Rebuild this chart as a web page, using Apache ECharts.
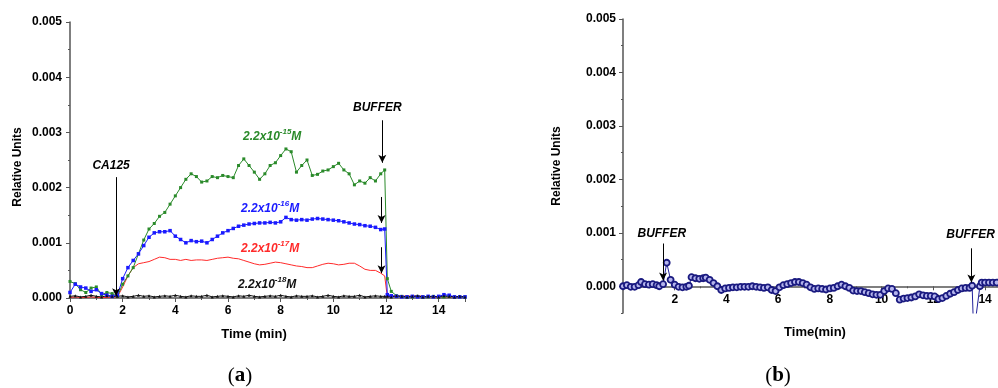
<!DOCTYPE html>
<html><head><meta charset="utf-8">
<script src="https://cdn.jsdelivr.net/npm/echarts@6/dist/echarts.min.js"></script>
<style>html,body{margin:0;padding:0;background:#fff}#c{width:998px;height:388px}</style>
</head><body><div id="c"></div>
<script>
// ---- Panel (a) data ----
const timeA = [0,0.2,0.4,0.6,0.8,1,1.2,1.4,1.6,1.8,2,2.2,2.4,2.6,2.8,3,3.2,3.4,3.6,3.8,4,4.2,4.4,4.6,4.8,5,5.2,5.4,5.6,5.8,6,6.2,6.4,6.6,6.8,7,7.2,7.4,7.6,7.8,8,8.2,8.4,8.6,8.8,9,9.2,9.4,9.6,9.8,10,10.2,10.4,10.6,10.8,11,11.2,11.4,11.6,11.8,11.95,12.05,12.2,12.4,12.6,12.8,13,13.2,13.4,13.6,13.8,14,14.2,14.4,14.6,14.8,15];
const green15 = [0.00030,0.00026,0.00015,0.00010,0.00018,0.00020,0.00006,0.00010,0.00008,0.00003,
 0.00025,0.00040,0.00055,0.00080,0.00105,0.00125,0.00135,0.00148,0.00155,0.00170,
 0.00185,0.00200,0.00215,0.00225,0.00220,0.00210,0.00212,0.00220,0.00218,0.00222,
 0.00220,0.00218,0.00240,0.00252,0.00240,0.00228,0.00215,0.00225,0.00240,0.00245,
 0.00258,0.00270,0.00265,0.00228,0.00240,0.00250,0.00222,0.00224,0.00230,0.00232,
 0.00238,0.00244,0.00232,0.00225,0.00205,0.00212,0.00208,0.00218,0.00212,0.00225,
 0.00232,0.00035,
 0.00012,0.00004,0.00003,0.00002,0.00002,0.00003,0.00002,0.00002,0.00003,0.00002,0.00002,0.00003,0.00002,0.00002,0.00002];
const blue16 = [0.00010,0.00025,0.00020,0.00018,0.00012,0.00015,0.00008,0.00005,0.00003,0.00005,
 0.00035,0.00055,0.00068,0.00080,0.00095,0.00110,0.00118,0.00120,0.00120,0.00122,
 0.00112,0.00106,0.00100,0.00104,0.00102,0.00103,0.00100,0.00106,0.00112,0.00118,
 0.00122,0.00126,0.00130,0.00132,0.00134,0.00135,0.00136,0.00136,0.00137,0.00136,
 0.00138,0.00146,0.00142,0.00141,0.00142,0.00141,0.00143,0.00144,0.00143,0.00142,
 0.00141,0.00140,0.00138,0.00136,0.00134,0.00133,0.00131,0.00130,0.00128,0.00124,
 0.00125,0.00006,
 0.00004,0.00003,0.00002,0.00002,0.00003,0.00002,0.00002,0.00003,0.00002,0.00003,0.00006,0.00005,0.00002,0.00002,0.00002];
const red17 = [0.00001,0.00002,0.00001,0.00001,0.00002,0.00001,0.00001,0.00001,0.00002,0.00002,
 0.00020,0.00040,0.00055,0.00062,0.00064,0.00066,0.00070,0.00074,0.00073,0.00070,
 0.00070,0.00068,0.00070,0.00068,0.00069,0.00069,0.00068,0.00070,0.00072,0.00073,
 0.00074,0.00072,0.00071,0.00068,0.00065,0.00062,0.00060,0.00061,0.00063,0.00065,
 0.00064,0.00062,0.00060,0.00058,0.00057,0.00055,0.00055,0.00058,0.00061,0.00063,
 0.00062,0.00060,0.00061,0.00063,0.00063,0.00058,0.00052,0.00050,0.00050,0.00045,
 0.00040,0.00002,
 0.00003,0.00004,0.00003,0.00004,0.00003,0.00004,0.00003,0.00002,0.00002,0.00002,0.00002,0.00002,0.00002,0.00002,0.00002];
const black18 = [0.00003,0.00004,0.00002,0.00003,0.00005,0.00003,0.00002,0.00004,0.00003,0.00003,
 0.00004,0.00002,0.00003,0.00005,0.00003,0.00004,0.00002,0.00003,0.00004,0.00003,
 0.00005,0.00003,0.00002,0.00004,0.00003,0.00003,0.00005,0.00002,0.00003,0.00004,
 0.00003,0.00002,0.00004,0.00003,0.00005,0.00003,0.00002,0.00003,0.00004,0.00003,
 0.00005,0.00003,0.00002,0.00004,0.00003,0.00003,0.00004,0.00002,0.00003,0.00005,
 0.00003,0.00002,0.00004,0.00003,0.00003,0.00005,0.00002,0.00003,0.00004,0.00003,
 0.00003,0.00003,
 0.00002,0.00004,0.00003,0.00002,0.00003,0.00004,0.00002,0.00003,0.00003,0.00002,0.00004,0.00003,0.00002,0.00003,0.00002];

// ---- Panel (b) data ----
const timeB = [0,0.15,0.3,0.45,0.6,0.7,0.85,1,1.15,1.3,1.4,1.55,1.69,1.84,2,2.15,2.3,2.45,2.55,2.65,2.8,2.95,3.1,3.2,3.35,3.5,3.65,3.8,3.95,4.1,4.25,4.4,4.55,4.7,4.85,5,5.15,5.3,5.45,5.6,5.75,5.9,6.05,6.2,6.35,6.5,6.65,6.8,6.95,7.1,7.25,7.4,7.55,7.7,7.85,8,8.15,8.3,8.45,8.6,8.75,8.9,9.05,9.2,9.35,9.5,9.65,9.8,9.95,10.1,10.25,10.4,10.55,10.7,10.85,11,11.15,11.3,11.45,11.6,11.75,11.9,12.05,12.2,12.35,12.5,12.65,12.8,12.95,13.1,13.25,13.4,13.5,13.56,13.62,13.8,13.87,14,14.15,14.3,14.45];
const bufferB = [0.00000,0.00002,-0.00001,-0.00001,0.00002,0.00008,0.00004,0.00003,0.00004,0.00002,0.00000,0.00004,0.00044,0.00012,0.00003,-0.00001,-0.00002,-0.00001,0.00001,0.00017,0.00015,0.00014,0.00015,0.00016,0.00012,0.00006,0.00000,-0.00007,-0.00004,-0.00003,-0.00002,-0.00002,-0.00001,-0.00001,-0.00001,0.00000,-0.00001,-0.00002,-0.00003,-0.00002,-0.00007,-0.00009,-0.00002,0.00002,0.00004,0.00006,0.00008,0.00008,0.00006,0.00003,-0.00002,-0.00005,-0.00004,-0.00005,-0.00006,-0.00004,-0.00003,0.00000,0.00003,0.00000,-0.00003,-0.00008,-0.00009,-0.00009,-0.00011,-0.00013,-0.00015,-0.00016,-0.00016,-0.00009,-0.00004,-0.00005,-0.00013,-0.00025,-0.00023,-0.00022,-0.00021,-0.00019,-0.00015,-0.00017,-0.00018,-0.00018,-0.00019,-0.00024,-0.00022,-0.00018,-0.00014,-0.00011,-0.00007,-0.00004,-0.00003,-0.00003,0.00001,-0.00090,-0.00090,0.00000,0.00007,0.00007,0.00007,0.00007,0.00007];

const yTicksB = [0,0.001,0.002,0.003,0.004,0.005];

const FONT = 'Liberation Sans, Arial, sans-serif';
const AX = '#555';
const lblStyle = {fontFamily: FONT, fontWeight: 'bold', fontSize: 12, color: '#000'};

function pair(t, v) { return t.map((x, i) => [x, v[i]]); }

function concLabel(exp, color) {
  return {
    show: true, position: 'inside',
    formatter: '{a|2.2x10}{s|' + exp + '}{a|M}',
    rich: {
      a: {fontFamily: FONT, fontWeight: 'bold', fontStyle: 'italic', fontSize: 12, color: color, lineHeight: 15, verticalAlign: 'bottom'},
      s: {fontFamily: FONT, fontWeight: 'bold', fontStyle: 'italic', fontSize: 8, color: color, lineHeight: 15, verticalAlign: 'top'}
    }
  };
}
function textMark(coord, text) {
  return {coord: coord, symbolSize: 0, label: {show: true, position: 'inside', formatter: text,
    fontFamily: FONT, fontWeight: 'bold', fontStyle: 'italic', fontSize: 12, color: '#000'}};
}
const arrowLine = {silent: true, symbol: ['none', 'arrow'], symbolSize: [6, 8],
  lineStyle: {color: '#000', width: 1, type: 'solid'}, label: {show: false}, emphasis: {disabled: true}};

const chart = echarts.init(document.getElementById('c'), null, {renderer: 'canvas'});
chart.setOption({
  animation: false,
  backgroundColor: '#fff',
  grid: [
    {left: 70, right: 533, top: 22, bottom: 90},
    {left: 623, right: 0, top: 19, bottom: 75}
  ],
  xAxis: [
    {gridIndex: 0, type: 'value', min: 0, max: 15, interval: 2,
     axisLine: {lineStyle: {color: AX, width: 1.5}},
     axisTick: {length: 4, lineStyle: {color: AX}},
     minorTick: {show: true, splitNumber: 2, length: 2, lineStyle: {color: AX}},
     splitLine: {show: false},
     axisLabel: Object.assign({showMaxLabel: false, margin: 7}, lblStyle)},
    {gridIndex: 1, type: 'value', min: 0, max: 14.5, interval: 2, position: 'bottom', offset: -26.7,
     axisLine: {onZero: false, lineStyle: {color: AX, width: 1.5}},
     axisTick: {length: 4, lineStyle: {color: AX}},
     minorTick: {show: true, splitNumber: 2, length: 2, lineStyle: {color: AX}},
     splitLine: {show: false},
     axisLabel: Object.assign({showMaxLabel: false, showMinLabel: false, margin: 7}, lblStyle)}
  ],
  yAxis: [
    {gridIndex: 0, type: 'value', min: 0, max: 0.005, interval: 0.001,
     axisLine: {show: true, lineStyle: {color: AX, width: 1.5}},
     axisTick: {show: true, length: 4, lineStyle: {color: AX}},
     minorTick: {show: true, splitNumber: 2, length: 2, lineStyle: {color: AX}},
     splitLine: {show: false},
     axisLabel: Object.assign({formatter: v => v.toFixed(3), margin: 8}, lblStyle)},
    {gridIndex: 1, type: 'value', min: -0.0005, max: 0.005, interval: 0.0005,
     axisLine: {show: true, onZero: false, lineStyle: {color: AX, width: 1.5}},
     axisTick: {show: true, length: 2, lineStyle: {color: AX}},
     splitLine: {show: false},
     axisLabel: Object.assign({margin: 7, formatter: function (v) {
       const k = Math.round(v * 10000);
       return (k >= 0 && k % 10 === 0) ? (k / 10000).toFixed(3) : '';
     }}, lblStyle)},
    {gridIndex: 1, type: 'value', min: -0.0005, max: 0.005, position: 'left',
     axisLine: {show: false, onZero: false},
     axisTick: {show: true, length: 4, customValues: yTicksB, lineStyle: {color: AX}},
     splitLine: {show: false},
     axisLabel: {show: false}}
  ],
  series: [
    {name: '2.2x10-17M', type: 'line', xAxisIndex: 0, yAxisIndex: 0, data: pair(timeA, red17),
     showSymbol: false, symbol: 'none', lineStyle: {color: '#ff2a2a', width: 1}, itemStyle: {color: '#ff2a2a'},
     markPoint: {silent: true, symbol: 'circle', data: [Object.assign({coord: [7.6, 0.00092], symbolSize: 0}, {label: concLabel('-17', '#ff2a2a')})]},
     markLine: Object.assign({}, arrowLine, {data: [[{coord: [11.83, 0.00092]}, {coord: [11.83, 0.00045]}]]})},
    {name: '2.2x10-15M', type: 'line', xAxisIndex: 0, yAxisIndex: 0, data: pair(timeA, green15),
     symbol: 'rect', symbolSize: 3, lineStyle: {color: '#2a8a2a', width: 1}, itemStyle: {color: '#2a8a2a'},
     markPoint: {silent: true, symbol: 'circle', data: [Object.assign({coord: [7.68, 0.00295], symbolSize: 0}, {label: concLabel('-15', '#2a8a2a')})]},
     markLine: Object.assign({}, arrowLine, {data: [[{coord: [11.86, 0.00322]}, {coord: [11.86, 0.00245]}]]})},
    {name: '2.2x10-16M', type: 'line', xAxisIndex: 0, yAxisIndex: 0, data: pair(timeA, blue16),
     symbol: 'rect', symbolSize: 3.5, lineStyle: {color: '#1a1aff', width: 1}, itemStyle: {color: '#1a1aff'},
     markPoint: {silent: true, symbol: 'circle', data: [Object.assign({coord: [7.6, 0.00165], symbolSize: 0}, {label: concLabel('-16', '#1a1aff')})]},
     markLine: Object.assign({}, arrowLine, {data: [[{coord: [11.83, 0.00183]}, {coord: [11.83, 0.00136]}]]})},
    {name: '2.2x10-18M', type: 'line', xAxisIndex: 0, yAxisIndex: 0, data: pair(timeA, black18),
     symbol: 'triangle', symbolSize: 3, lineStyle: {color: '#111', width: 1}, itemStyle: {color: '#111'},
     markPoint: {silent: true, symbol: 'circle', data: [
       Object.assign({coord: [7.49, 0.00027], symbolSize: 0}, {label: concLabel('-18', '#111')}),
       textMark([1.56, 0.00239], 'CA125'),
       textMark([11.67, 0.00344], 'BUFFER')
     ]},
     markLine: Object.assign({}, arrowLine, {data: [[{coord: [1.75, 0.00219]}, {coord: [1.75, 0.00003]}]]})},
    {name: 'BUFFER', type: 'line', xAxisIndex: 1, yAxisIndex: 1, data: pair(timeB, bufferB),
     symbol: 'circle', symbolSize: 6, clip: true,
     lineStyle: {color: '#22229a', width: 1},
     itemStyle: {color: '#b4b4ec', borderColor: '#1a1a80', borderWidth: 1.8},
     markPoint: {silent: true, symbol: 'circle', data: [
       textMark([1.5, 0.00099], 'BUFFER'),
       textMark([13.44, 0.00096], 'BUFFER')
     ]},
     markLine: Object.assign({}, arrowLine, {data: [
       [{coord: [1.55, 0.0008]}, {coord: [1.55, 0.00011]}],
       [{coord: [13.47, 0.00071]}, {coord: [13.47, 0.00007]}]
     ]})}
  ],
  graphic: [
    {type: 'text', x: 18, y: 167, rotation: Math.PI / 2, style: {text: 'Relative Units', font: 'bold 12px ' + FONT, fill: '#000', align: 'center', verticalAlign: 'middle'}},
    {type: 'text', x: 557, y: 166, rotation: Math.PI / 2, style: {text: 'Relative Units', font: 'bold 12px ' + FONT, fill: '#000', align: 'center', verticalAlign: 'middle'}},
    {type: 'text', x: 254, y: 334, style: {text: 'Time (min)', font: 'bold 13px ' + FONT, fill: '#000', align: 'center', verticalAlign: 'middle'}},
    {type: 'text', x: 815, y: 332, style: {text: 'Time(min)', font: 'bold 13px ' + FONT, fill: '#000', align: 'center', verticalAlign: 'middle'}},
    {type: 'text', x: 240, y: 376, style: {text: '{p|(}{b|a}{p|)}', align: 'center', verticalAlign: 'middle',
      rich: {p: {fontFamily: 'Liberation Serif, serif', fontSize: 21, fill: '#000'}, b: {fontFamily: 'Liberation Serif, serif', fontSize: 21, fontWeight: 'bold', fill: '#000'}}}},
    {type: 'text', x: 778, y: 376, style: {text: '{p|(}{b|b}{p|)}', align: 'center', verticalAlign: 'middle',
      rich: {p: {fontFamily: 'Liberation Serif, serif', fontSize: 21, fill: '#000'}, b: {fontFamily: 'Liberation Serif, serif', fontSize: 21, fontWeight: 'bold', fill: '#000'}}}}
  ]
});
</script></body></html>
